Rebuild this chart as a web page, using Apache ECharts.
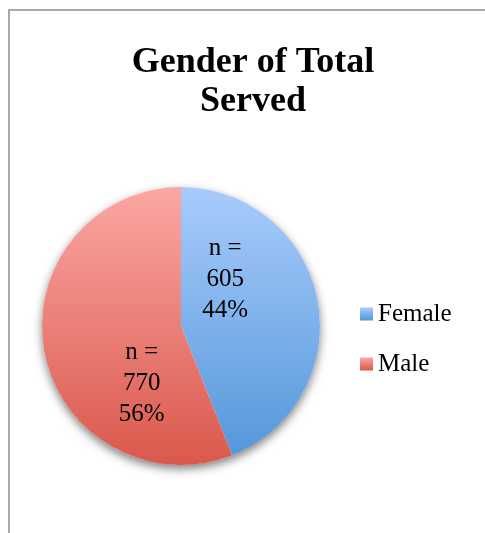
<!DOCTYPE html>
<html>
<head>
<meta charset="utf-8">
<script src="https://cdn.jsdelivr.net/npm/echarts@6/dist/echarts.min.js"></script>
<style>
  html, body { margin: 0; padding: 0; background: #fff; }
  #main { width: 485px; height: 533px; }
</style>
</head>
<body>
<div id="main"></div>
<script>
// data
var categories = ['Female', 'Male'];
var counts = [605, 770];

var serif = '"Liberation Serif", "Times New Roman", serif';

var topColors = ['#a8ccfc', '#fba7a3'];
var bottomColors = ['#5295d9', '#da584c'];

// one vertical gradient per slice, spanning the whole pie
function vgrad(top, bottom) {
    return new echarts.graphic.LinearGradient(0, 187, 0, 466, [
        { offset: 0, color: top },
        { offset: 1, color: bottom }
    ], true);
}
// same idea for the small legend squares
function localGrad(top, bottom) {
    return new echarts.graphic.LinearGradient(0, 0, 0, 1, [
        { offset: 0, color: top },
        { offset: 1, color: bottom }
    ]);
}

// nudge the inside labels to where the original puts them
var labelOffsets = [[-27, -33], [32, 44]];

var pieData = categories.map(function (name, i) {
    return {
        name: name,
        value: counts[i],
        itemStyle: { color: vgrad(topColors[i], bottomColors[i]) },
        label: { offset: labelOffsets[i] }
    };
});

var legendData = categories.map(function (name, i) {
    return {
        name: name,
        itemStyle: { color: localGrad(topColors[i], bottomColors[i]) }
    };
});

var chart = echarts.init(document.getElementById('main'));

var option = {
    backgroundColor: '#fff',
    animation: false,
    graphic: [{
        type: 'rect',
        silent: true,
        shape: { x: 9, y: 10, width: 600, height: 600 },
        style: { fill: 'none', stroke: '#a9a9a9', lineWidth: 2 }
    }],
    title: {
        text: 'Gender of Total\nServed',
        left: 248,
        textAlign: 'center',
        top: 38,
        textStyle: {
            fontFamily: serif,
            fontWeight: 'bold',
            fontSize: 36,
            lineHeight: 39,
            color: '#000'
        }
    },
    legend: {
        orient: 'vertical',
        left: 355,
        top: 296,
        icon: 'rect',
        itemWidth: 13,
        itemHeight: 13,
        itemGap: 24,
        data: legendData,
        textStyle: {
            fontFamily: serif,
            fontSize: 25,
            lineHeight: 26,
            color: '#000'
        }
    },
    series: [
        {
            // soft shadow under the whole disc
            type: 'pie',
            silent: true,
            center: [181, 326],
            radius: 139,
            label: { show: false },
            labelLine: { show: false },
            itemStyle: {
                color: '#fff',
                shadowBlur: 10,
                shadowOffsetY: 4,
                shadowColor: 'rgba(0,0,0,0.5)'
            },
            data: [{ name: 'shadow', value: 1 }]
        },
        {
            type: 'pie',
            center: [181, 326],
            radius: 139,
            startAngle: 90,
            clockwise: true,
            label: {
                show: true,
                position: 'inside',
                formatter: 'n =\n{c}\n{d}%',
                fontFamily: serif,
                fontSize: 25,
                lineHeight: 31,
                color: '#000'
            },
            labelLine: { show: false },
            emphasis: { disabled: true },
            data: pieData
        }
    ]
};

chart.setOption(option);
</script>
</body>
</html>
